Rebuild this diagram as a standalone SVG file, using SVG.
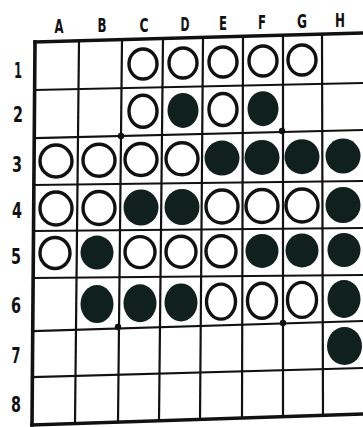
<svg xmlns="http://www.w3.org/2000/svg" width="363" height="427" viewBox="0 0 363 427">
<style>
.lbl{font-family:"DejaVu Sans Condensed","DejaVu Sans",sans-serif;font-weight:bold;fill:#111;text-anchor:middle}
.col{font-size:19px}
.row{font-size:21px}
.g{stroke:#111;stroke-width:2.2;fill:none;stroke-linecap:square}
.b{stroke:#111;stroke-width:3.6;fill:none;stroke-linecap:square}
.w{fill:#fff;stroke:#111;stroke-width:3.4}
.k{fill:#10201c}
.dot{fill:#111}
</style>
<rect width="363" height="427" fill="#fff"/>
<g id="labels">
<text class="lbl col" x="59" y="33" textLength="9" lengthAdjust="spacingAndGlyphs">A</text>
<text class="lbl col" x="102" y="32" textLength="9" lengthAdjust="spacingAndGlyphs">B</text>
<text class="lbl col" x="144" y="31.5" textLength="9" lengthAdjust="spacingAndGlyphs">C</text>
<text class="lbl col" x="185" y="30.5" textLength="9" lengthAdjust="spacingAndGlyphs">D</text>
<text class="lbl col" x="223" y="29.5" textLength="8" lengthAdjust="spacingAndGlyphs">E</text>
<text class="lbl col" x="262" y="28.5" textLength="8" lengthAdjust="spacingAndGlyphs">F</text>
<text class="lbl col" x="302" y="28" textLength="10" lengthAdjust="spacingAndGlyphs">G</text>
<text class="lbl col" x="340" y="26.5" textLength="10" lengthAdjust="spacingAndGlyphs">H</text>
<text class="lbl row" x="18" y="78" textLength="8" lengthAdjust="spacingAndGlyphs">1</text>
<text class="lbl row" x="18" y="122" textLength="10" lengthAdjust="spacingAndGlyphs">2</text>
<text class="lbl row" x="17" y="172" textLength="10" lengthAdjust="spacingAndGlyphs">3</text>
<text class="lbl row" x="17" y="218" textLength="10" lengthAdjust="spacingAndGlyphs">4</text>
<text class="lbl row" x="16" y="264" textLength="10" lengthAdjust="spacingAndGlyphs">5</text>
<text class="lbl row" x="16" y="313" textLength="10" lengthAdjust="spacingAndGlyphs">6</text>
<text class="lbl row" x="16" y="363" textLength="9" lengthAdjust="spacingAndGlyphs">7</text>
<text class="lbl row" x="16" y="412" textLength="10" lengthAdjust="spacingAndGlyphs">8</text>
</g>
<g id="grid">
<line class="g" x1="35" y1="90" x2="363" y2="83"/>
<line class="g" x1="35" y1="138" x2="363" y2="130"/>
<line class="g" x1="34" y1="185" x2="363" y2="181"/>
<line class="g" x1="34" y1="231" x2="363" y2="228"/>
<line class="g" x1="33" y1="278" x2="363" y2="275"/>
<line class="g" x1="33" y1="331" x2="363" y2="321"/>
<line class="g" x1="32" y1="377" x2="363" y2="368"/>
<line class="g" x1="79" y1="40.8" x2="75" y2="423.6"/>
<line class="g" x1="122" y1="39.6" x2="118" y2="422.1"/>
<line class="g" x1="163" y1="38.5" x2="159" y2="420.8"/>
<line class="g" x1="203" y1="37.4" x2="200" y2="419.4"/>
<line class="g" x1="243" y1="36.3" x2="242" y2="418"/>
<line class="g" x1="283" y1="35.2" x2="283" y2="416.7"/>
<line class="g" x1="322" y1="34.1" x2="323" y2="415.3"/>
<line class="b" x1="35" y1="42" x2="363" y2="33"/>
<line class="b" x1="32" y1="425" x2="363" y2="414"/>
<line class="b" x1="35" y1="42" x2="32" y2="425"/>
<circle class="dot" cx="121" cy="136" r="3.2"/>
<circle class="dot" cx="282" cy="131" r="3.2"/>
<circle class="dot" cx="118" cy="327" r="3.2"/>
<circle class="dot" cx="283" cy="323" r="3.2"/>
</g>
<g id="row1">
<ellipse class="w" cx="143" cy="64" rx="14" ry="15"/>
<ellipse class="w" cx="183" cy="63" rx="14" ry="15"/>
<ellipse class="w" cx="223" cy="62" rx="14" ry="15"/>
<ellipse class="w" cx="263" cy="61" rx="14" ry="15"/>
<ellipse class="w" cx="302" cy="60" rx="14" ry="15"/>
</g>
<g id="row2">
<ellipse class="w" cx="143" cy="111.2" rx="14" ry="16"/>
<ellipse class="k" cx="183" cy="110.4" rx="15.5" ry="17.5"/>
<ellipse class="w" cx="223" cy="109.5" rx="14" ry="16"/>
<ellipse class="k" cx="263" cy="108.7" rx="15.5" ry="17.5"/>
</g>
<g id="row3">
<ellipse class="w" cx="56" cy="161" rx="16" ry="16"/>
<ellipse class="w" cx="99" cy="160.2" rx="16" ry="16"/>
<ellipse class="w" cx="141" cy="159.5" rx="16" ry="16"/>
<ellipse class="w" cx="182" cy="158.8" rx="16" ry="16"/>
<ellipse class="k" cx="222" cy="158.1" rx="17.5" ry="17.5"/>
<ellipse class="k" cx="262" cy="157.4" rx="17.5" ry="17.5"/>
<ellipse class="k" cx="302" cy="156.7" rx="17.5" ry="17.5"/>
<ellipse class="k" cx="343" cy="156" rx="17.5" ry="17.5"/>
</g>
<g id="row4">
<ellipse class="w" cx="56" cy="208.5" rx="16" ry="16.5"/>
<ellipse class="w" cx="99" cy="208" rx="16" ry="16.5"/>
<ellipse class="k" cx="141" cy="207.5" rx="17.5" ry="18"/>
<ellipse class="k" cx="182" cy="207" rx="17.5" ry="18"/>
<ellipse class="w" cx="222" cy="206.5" rx="16" ry="16.5"/>
<ellipse class="w" cx="262" cy="206" rx="16" ry="16.5"/>
<ellipse class="w" cx="302" cy="205.5" rx="16" ry="16.5"/>
<ellipse class="k" cx="343" cy="205" rx="17.5" ry="18"/>
</g>
<g id="row5">
<ellipse class="w" cx="55" cy="253" rx="15" ry="15.5"/>
<ellipse class="k" cx="97" cy="252.6" rx="16.5" ry="17"/>
<ellipse class="w" cx="140" cy="252.1" rx="15" ry="15.5"/>
<ellipse class="w" cx="181" cy="251.7" rx="15" ry="15.5"/>
<ellipse class="w" cx="221" cy="251.3" rx="15" ry="15.5"/>
<ellipse class="k" cx="262" cy="250.9" rx="16.5" ry="17"/>
<ellipse class="k" cx="302" cy="250.4" rx="16.5" ry="17"/>
<ellipse class="k" cx="344" cy="250" rx="16.5" ry="17"/>
</g>
<g id="row6">
<ellipse class="k" cx="97" cy="304.1" rx="16.5" ry="19"/>
<ellipse class="k" cx="140" cy="303.2" rx="16.5" ry="19"/>
<ellipse class="k" cx="181" cy="302.4" rx="16.5" ry="19"/>
<ellipse class="w" cx="221" cy="301.6" rx="14.5" ry="17.5"/>
<ellipse class="w" cx="262" cy="300.7" rx="14.5" ry="17.5"/>
<ellipse class="w" cx="302" cy="299.9" rx="14.5" ry="17.5"/>
<ellipse class="k" cx="344" cy="299" rx="16.5" ry="19"/>
</g>
<g id="row7">
<ellipse class="k" cx="344.5" cy="346" rx="17.5" ry="19"/>
</g>
</svg>
